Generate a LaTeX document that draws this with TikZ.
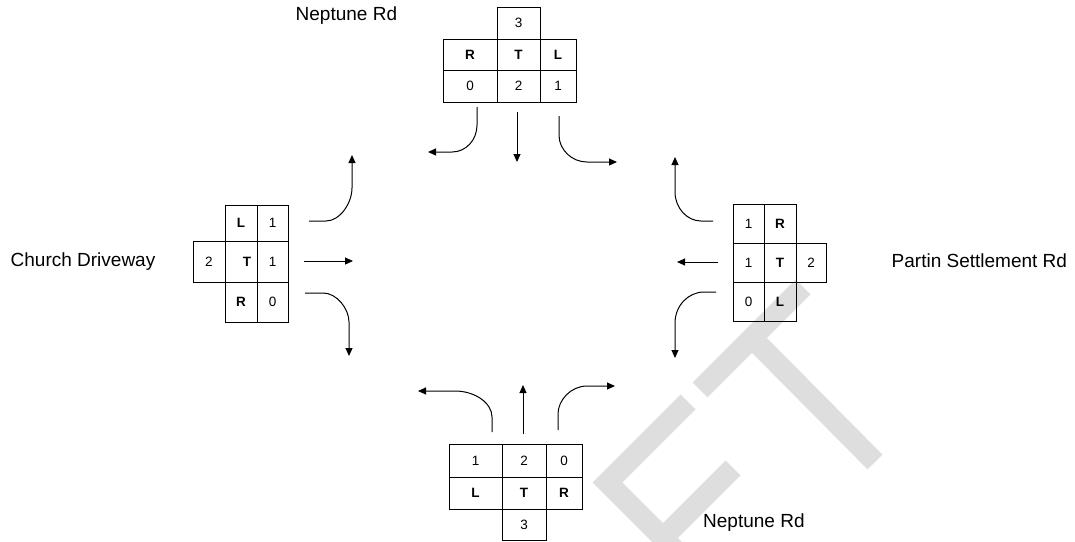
\documentclass[tikz,border=0pt]{standalone}
\usepackage{fontspec}
\setmainfont{Liberation Sans}
\usetikzlibrary{arrows.meta}
\definecolor{wm}{HTML}{DEDEDE}
\begin{document}
\begin{tikzpicture}[x=1pt,y=-1pt,
  cell/.style={draw=black, line width=0.9pt, inner sep=0pt, font=\fontsize{13.5}{15}\selectfont},
  lbl/.style={font=\fontsize{19}{23}\selectfont, inner sep=0pt, anchor=base west},
  arr/.style={line width=1pt, -{Triangle[length=8pt,width=7pt]}},
  wmk/.style={draw=wm, line width=21pt}]
\useasboundingbox (0,0) rectangle (1075,541);
% watermark
\begin{scope}
\clip (0,0) rectangle (1075,541);
\draw[wmk] (700,390) -- (803,287);
\draw[wmk] (759,345) -- (875,462);
\draw[wmk] (688,402) -- (607.5,482.5) -- (720,595);
\draw[wmk] (733,468) -- (663,538);
\end{scope}
% labels
\node[lbl] (lN1) at (295.5,20.7) {Neptune Rd};
\node[lbl] (lCh) at (10.5,266.7) {Church Driveway};
\node[lbl] (lPa) at (891.5,267) {Partin Settlement Rd};
\node[lbl] (lN2) at (703,527) {Neptune Rd};
% top table
\node[cell, minimum width=43pt, minimum height=32pt] (t3) at (518.5,23) {3};
\node[cell, minimum width=54pt, minimum height=31pt] (tR) at (470,54.5) {\textbf{R}};
\node[cell, minimum width=43pt, minimum height=31pt] (tT) at (518.5,54.5) {\textbf{T}};
\node[cell, minimum width=36pt, minimum height=31pt] (tL) at (558,54.5) {\textbf{L}};
\node[cell, minimum width=54pt, minimum height=32pt] (t0) at (470,86) {0};
\node[cell, minimum width=43pt, minimum height=32pt] (t2) at (518.5,86) {2};
\node[cell, minimum width=36pt, minimum height=32pt] (t1) at (558,86) {1};
% left table
\node[cell, minimum width=32pt, minimum height=36pt] (lL) at (241,223) {\textbf{L}};
\node[cell, minimum width=31pt, minimum height=36pt] (l1a) at (272.5,223) {1};
\node[cell, minimum width=32pt, minimum height=41pt] (l2) at (209,261.5) {2};
\node[cell, minimum width=32pt, minimum height=41pt] (lT) at (241,261.5) {\hspace*{12pt}\textbf{T}};
\node[cell, minimum width=31pt, minimum height=41pt] (l1b) at (272.5,261.5) {1};
\node[cell, minimum width=32pt, minimum height=40pt] (lR) at (241,302) {\textbf{R}};
\node[cell, minimum width=31pt, minimum height=40pt] (l0) at (272.5,302) {0};
% right table
\node[cell, minimum width=31pt, minimum height=39pt] (r1a) at (748.5,223.5) {1};
\node[cell, minimum width=32pt, minimum height=39pt] (rR) at (780,223.5) {\textbf{R}};
\node[cell, minimum width=31pt, minimum height=39pt] (r1b) at (748.5,262.5) {1};
\node[cell, minimum width=32pt, minimum height=39pt] (rT) at (780,262.5) {\textbf{T}};
\node[cell, minimum width=30pt, minimum height=39pt] (r2) at (811,262.5) {2};
\node[cell, minimum width=31pt, minimum height=39pt] (r0) at (748.5,301.5) {0};
\node[cell, minimum width=32pt, minimum height=39pt] (rL) at (780,301.5) {\textbf{L}};
% bottom table
\node[cell, minimum width=53pt, minimum height=33pt] (b1) at (475.5,460.5) {1};
\node[cell, minimum width=44pt, minimum height=33pt] (b2) at (524,460.5) {2};
\node[cell, minimum width=36pt, minimum height=33pt] (b0) at (564,460.5) {0};
\node[cell, minimum width=53pt, minimum height=32pt] (bL) at (475.5,493) {\textbf{L}};
\node[cell, minimum width=44pt, minimum height=32pt] (bT) at (524,493) {\textbf{T}};
\node[cell, minimum width=36pt, minimum height=32pt] (bR) at (564,493) {\textbf{R}};
\node[cell, minimum width=44pt, minimum height=31pt] (b3) at (524,524.5) {3};
% arrow end points
\coordinate (tlS) at (477,107); \coordinate (tlE) at (428,152);
\coordinate (tmS) at (517,112); \coordinate (tmE) at (517,162);
\coordinate (trS) at (559,116); \coordinate (trE) at (617,162);
\coordinate (luS) at (309,221); \coordinate (luE) at (352,155);
\coordinate (lmS) at (304,261); \coordinate (lmE) at (353,261);
\coordinate (llS) at (305,293); \coordinate (llE) at (349,356);
\coordinate (ruS) at (713,221); \coordinate (ruE) at (675,157);
\coordinate (rmS) at (718,262); \coordinate (rmE) at (677,262);
\coordinate (rlS) at (716,292); \coordinate (rlE) at (675,358);
\coordinate (blS) at (492,432); \coordinate (blE) at (418,391);
\coordinate (bmS) at (523,434); \coordinate (bmE) at (523,385);
\coordinate (brS) at (558,430); \coordinate (brE) at (615,386);
% arrows
\draw[arr] (tlS) -- (477,125) .. controls (477,140) and (466,152) .. (452,152) -- (tlE);
\draw[arr] (tmS) -- (tmE);
\draw[arr] (trS) -- (559,135) .. controls (559,150) and (572,162) .. (587,162) -- (trE);
\draw[arr] (luS) -- (326,221) .. controls (340,221) and (352,203) .. (352,188) -- (luE);
\draw[arr] (lmS) -- (lmE);
\draw[arr] (llS) -- (323,293) .. controls (337,293) and (349,309) .. (349,322) -- (llE);
\draw[arr] (ruS) -- (701,221) .. controls (687,221) and (675,208) .. (675,192) -- (ruE);
\draw[arr] (rmS) -- (rmE);
\draw[arr] (rlS) -- (704,292) .. controls (688,292) and (675,306) .. (675,323) -- (rlE);
\draw[arr] (blS) -- (492,417) .. controls (492,403) and (475,391) .. (455,391) -- (blE);
\draw[arr] (bmS) -- (bmE);
\draw[arr] (brS) -- (558,414) .. controls (558,400) and (571,386) .. (587,386) -- (brE);
\end{tikzpicture}
\end{document}
